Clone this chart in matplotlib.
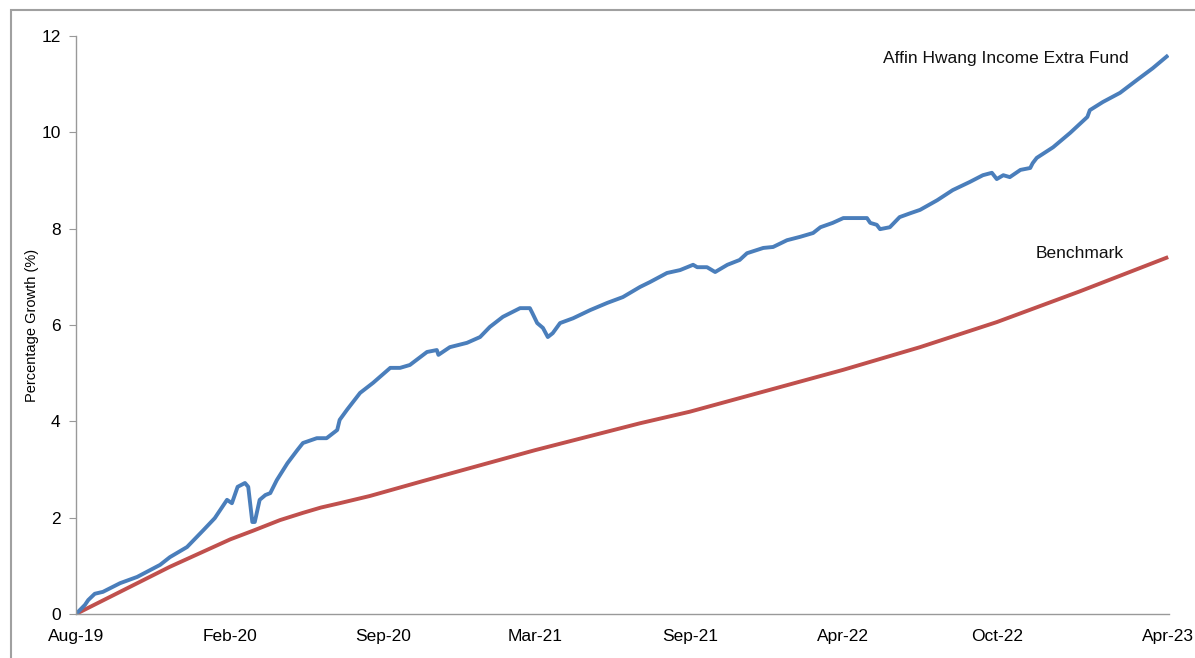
import matplotlib.pyplot as plt
from matplotlib.patches import Rectangle

plt.rcParams['font.family'] = ['Liberation Sans', 'DejaVu Sans']

# days since start of Aug-19
fund_days = [0, 11, 15, 23, 33, 54, 75, 103, 115, 136, 156, 170, 185, 191, 198,
             207, 211, 216, 219, 225, 232, 238, 246, 259, 271, 278, 295, 307, 320,
             323, 332, 348, 364, 385, 397, 409, 430, 442, 444, 458, 479, 495, 507,
             523, 544, 556, 559, 565, 572, 578, 584, 593, 609, 630, 651, 670, 691,
             703, 724, 740, 756, 761, 773, 783, 798, 813, 822, 842, 854, 871, 887,
             903, 912, 927, 940, 969, 973, 981, 985, 997, 1009, 1022, 1034, 1055,
             1074, 1095, 1111, 1122, 1128, 1136, 1144, 1157, 1169, 1172, 1177,
             1197, 1218, 1239, 1242, 1258, 1279, 1300, 1319, 1338]
fund_growth = [0, 0.19, 0.29, 0.42, 0.46, 0.64, 0.77, 1.02, 1.18, 1.39, 1.74, 1.99,
               2.37, 2.30, 2.64, 2.72, 2.64, 1.91, 1.91, 2.37, 2.47, 2.51, 2.78,
               3.13, 3.40, 3.55, 3.65, 3.65, 3.82, 4.03, 4.24, 4.59, 4.80, 5.11,
               5.11, 5.17, 5.44, 5.48, 5.38, 5.54, 5.63, 5.75, 5.96, 6.17, 6.35,
               6.35, 6.25, 6.04, 5.94, 5.75, 5.83, 6.04, 6.14, 6.31, 6.46, 6.58,
               6.79, 6.89, 7.08, 7.14, 7.25, 7.20, 7.20, 7.10, 7.25, 7.35, 7.49,
               7.60, 7.62, 7.76, 7.83, 7.91, 8.03, 8.12, 8.22, 8.22, 8.12, 8.08,
               7.99, 8.03, 8.24, 8.32, 8.39, 8.59, 8.80, 8.97, 9.11, 9.16, 9.03,
               9.11, 9.07, 9.22, 9.26, 9.36, 9.47, 9.69, 9.99, 10.32, 10.46, 10.63,
               10.82, 11.09, 11.33, 11.60]

bench_days = [0, 115, 189, 217, 250, 278, 300, 323, 360, 425, 562, 691, 752, 940, 1034, 1128, 1230, 1338]
bench_growth = [0, 0.98, 1.55, 1.73, 1.95, 2.10, 2.21, 2.30, 2.45, 2.76, 3.40, 3.96, 4.20, 5.07, 5.54, 6.06, 6.70, 7.41]

tick_days = [0, 189, 376, 562, 752, 940, 1128, 1338]
tick_labels = ['Aug-19', 'Feb-20', 'Sep-20', 'Mar-21', 'Sep-21', 'Apr-22', 'Oct-22', 'Apr-23']

fig = plt.figure(figsize=(11.95, 6.58), dpi=100)
ax = fig.add_axes([76 / 1195, 1 - 614 / 658, (1169 - 76) / 1195, (614 - 36) / 658])

ax.plot(bench_days, bench_growth, color='#C0504D', lw=2.8, solid_capstyle='butt')
ax.plot(fund_days, fund_growth, color='#4A7EBB', lw=2.8, solid_capstyle='butt')

ax.set_xlim(0, 1339)
ax.set_ylim(0, 12)
ax.set_yticks(range(0, 13, 2))
ax.set_xticks(tick_days)
ax.set_xticklabels(tick_labels)
ax.tick_params(axis='y', length=5, color='#999999', labelsize=12.5, pad=6)
ax.tick_params(axis='x', length=0, labelsize=12.5, pad=11)
for s in ['top', 'right']:
    ax.spines[s].set_visible(False)
for s in ['left', 'bottom']:
    ax.spines[s].set_color('#999999')
    ax.spines[s].set_linewidth(1.0)
ax.set_ylabel('Percentage Growth (%)', fontsize=10.5, labelpad=2)

ax.text(883 / 1195, 1 - 59 / 658, 'Affin Hwang Income Extra Fund', transform=fig.transFigure,
        fontsize=12.5, va='center', ha='left', color='#111111')
ax.text(1036 / 1195, 1 - 254 / 658, 'Benchmark', transform=fig.transFigure,
        fontsize=12.5, va='center', ha='left', color='#111111')

# outer frame
fig.patches.append(Rectangle((11 / 1195, -0.1), 1.2, 1 - 10 / 658 + 0.1,
                             transform=fig.transFigure, fill=False,
                             edgecolor='#A0A0A0', lw=1.5))

fig.savefig('out.png', dpi=100)
